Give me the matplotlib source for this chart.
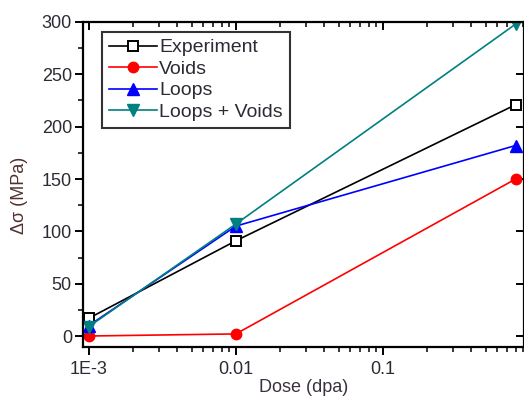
import matplotlib
matplotlib.use("Agg")
import matplotlib.pyplot as plt
from matplotlib.ticker import LogLocator, FixedLocator, MultipleLocator, NullFormatter

plt.rcParams['font.family'] = ['Liberation Sans', 'DejaVu Sans']

dose = [0.001, 0.01, 0.8]
experiment = [17, 91, 221]
voids = [0, 2, 150]
loops = [10, 105, 182]
loops_voids = [9, 107, 298]
xtick_vals = [0.001, 0.01, 0.1]
xtick_labels = ['1E-3', '0.01', '0.1']

fig = plt.figure(figsize=(5.24, 4.05), dpi=100)
ax = fig.add_axes([0.1584, 0.1432, 0.8416, 0.8025])

txt = '#2b2b35'
ax.plot(dose, experiment, color='black', lw=1.2, marker='s', ms=7, mfc='white', mec='black', mew=1.4, label='Experiment')
ax.plot(dose, voids, color='#ff0000', lw=1.2, marker='o', ms=7.5, label='Voids')
ax.plot(dose, loops, color='#0000ff', lw=1.2, marker='^', ms=8, label='Loops')
ax.plot(dose, loops_voids, color='#008080', lw=1.2, marker='v', ms=8, label='Loops + Voids')

ax.set_xscale('log')
ax.set_xlim(10**-3.04, 10**-0.04)
ax.set_ylim(-10.5, 300)
ax.xaxis.set_major_locator(FixedLocator(xtick_vals))
ax.set_xticklabels(xtick_labels)
ax.xaxis.set_minor_locator(LogLocator(base=10, subs=range(2, 10)))
ax.xaxis.set_minor_formatter(NullFormatter())
ax.yaxis.set_major_locator(MultipleLocator(50))
ax.yaxis.set_minor_locator(MultipleLocator(25))

ax.tick_params(axis='both', which='both', labelsize=13, colors='black', labelcolor=txt)
ax.tick_params(axis='x', which='major', direction='out', length=6, width=1.4, top=True, pad=4)
ax.tick_params(axis='x', which='minor', direction='out', length=3.5, width=1.1, top=True)
ax.tick_params(axis='y', which='major', direction='out', length=6, width=1.4, right=True, pad=2)
ax.tick_params(axis='y', which='minor', direction='out', length=3.5, width=1.1, right=False)
# top/right ticks inward
for t in ax.xaxis.get_major_ticks() + ax.xaxis.get_minor_ticks():
    t.tick2line.set_marker(matplotlib.lines.TICKDOWN)
for t in ax.yaxis.get_major_ticks():
    t.tick2line.set_marker(matplotlib.lines.TICKLEFT)

for s in ax.spines.values():
    s.set_linewidth(1.6)

ax.set_xlabel('Dose (dpa)', fontsize=13, color='#3a3040', labelpad=1)
ax.set_ylabel('Δσ (MPa)', fontsize=13, color='#503030')
ax.yaxis.set_label_coords(-0.125, 0.468)

leg = ax.legend(loc='upper left', bbox_to_anchor=(0.043, 0.969), fontsize=14, frameon=True,
                fancybox=False, edgecolor='black', handlelength=2.5, handletextpad=0.1,
                borderpad=0.35, labelspacing=0.2, borderaxespad=0, handleheight=0.7)
leg.get_frame().set_linewidth(1.5)
for t in leg.get_texts():
    t.set_color(txt)

fig.savefig('out.png', dpi=100)
